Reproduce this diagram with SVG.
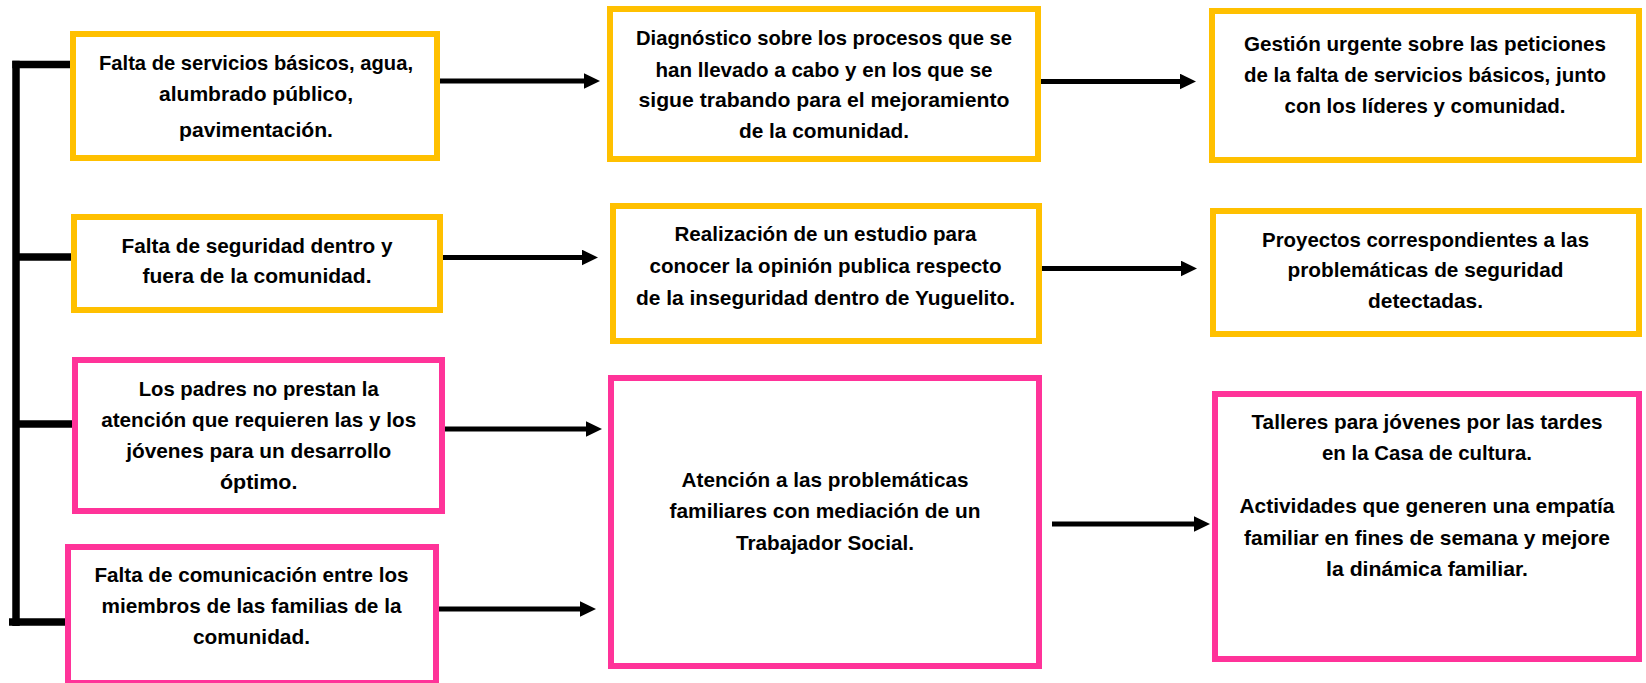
<svg xmlns="http://www.w3.org/2000/svg" width="1646" height="683" viewBox="0 0 1646 683">
<style>
.box{fill:#ffffff;stroke-width:6}
.y{stroke:#FFC000}
.p{stroke:#FF3399}
.t{font-family:"Liberation Sans",Arial,sans-serif;font-weight:bold;font-size:21px;fill:#000000;text-anchor:middle}
.ln{fill:none;stroke:#000000;stroke-width:5}
.br{fill:none;stroke:#000000;stroke-width:7.5;stroke-linecap:butt}
</style>
<defs>
<marker id="ah" markerUnits="userSpaceOnUse" markerWidth="16" markerHeight="16" refX="2" refY="7.8" orient="auto">
<path d="M0,0 L16,7.8 L0,15.6 z" fill="#000000"/>
</marker>
</defs>
<rect width="1646" height="683" fill="#ffffff"/>
<g id="connectors">
<path class="br" d="M16,60.7 V626"/>
<path class="br" d="M12.3,64.5 H73"/>
<path class="br" d="M16,257 H74"/>
<path class="br" d="M16,424 H75"/>
<path class="br" d="M9,622 H68"/>
<path class="ln" d="M440,81 H586" marker-end="url(#ah)"/>
<path class="ln" d="M440,257.5 H584" marker-end="url(#ah)"/>
<path class="ln" d="M444,429 H588" marker-end="url(#ah)"/>
<path class="ln" d="M438,609 H582" marker-end="url(#ah)"/>
<path class="ln" d="M1038,81.5 H1182" marker-end="url(#ah)"/>
<path class="ln" d="M1040,268.5 H1183" marker-end="url(#ah)"/>
<path class="ln" d="M1052,524 H1196" marker-end="url(#ah)"/>
</g>
<g id="n1">
<rect class="box y" x="73" y="34" width="364" height="124"/>
<text class="t" x="256" y="70" textLength="314" lengthAdjust="spacingAndGlyphs">Falta de servicios básicos, agua,</text>
<text class="t" x="256" y="100.5" textLength="194" lengthAdjust="spacingAndGlyphs">alumbrado público,</text>
<text class="t" x="256" y="136.7" textLength="154" lengthAdjust="spacingAndGlyphs">pavimentación.</text>
</g>
<g id="n2">
<rect class="box y" x="74" y="217" width="366" height="93"/>
<text class="t" x="257" y="253" textLength="271" lengthAdjust="spacingAndGlyphs">Falta de seguridad dentro y</text>
<text class="t" x="257" y="283" textLength="229" lengthAdjust="spacingAndGlyphs">fuera de la comunidad.</text>
</g>
<g id="n3">
<rect class="box y" x="610" y="9" width="428" height="150"/>
<text class="t" x="824" y="45" textLength="376" lengthAdjust="spacingAndGlyphs">Diagnóstico sobre los procesos que se</text>
<text class="t" x="824" y="76.7" textLength="337" lengthAdjust="spacingAndGlyphs">han llevado a cabo y en los que se</text>
<text class="t" x="824" y="107" textLength="371" lengthAdjust="spacingAndGlyphs">sigue trabando para el mejoramiento</text>
<text class="t" x="824" y="138.3" textLength="170" lengthAdjust="spacingAndGlyphs">de la comunidad.</text>
</g>
<g id="n4">
<rect class="box y" x="613" y="206" width="426" height="135"/>
<text class="t" x="825.5" y="240.7" textLength="302" lengthAdjust="spacingAndGlyphs">Realización de un estudio para</text>
<text class="t" x="825.5" y="272.7" textLength="352" lengthAdjust="spacingAndGlyphs">conocer la opinión publica respecto</text>
<text class="t" x="825.5" y="304.5" textLength="379" lengthAdjust="spacingAndGlyphs">de la inseguridad dentro de Yuguelito.</text>
</g>
<g id="n5">
<rect class="box y" x="1212" y="11" width="427" height="149"/>
<text class="t" x="1425" y="50.7" textLength="362" lengthAdjust="spacingAndGlyphs">Gestión urgente sobre las peticiones</text>
<text class="t" x="1425" y="81.7" textLength="362" lengthAdjust="spacingAndGlyphs">de la falta de servicios básicos, junto</text>
<text class="t" x="1425" y="113.3" textLength="281" lengthAdjust="spacingAndGlyphs">con los líderes y comunidad.</text>
</g>
<g id="n6">
<rect class="box y" x="1213" y="211" width="426" height="123"/>
<text class="t" x="1425.5" y="246.7" textLength="327" lengthAdjust="spacingAndGlyphs">Proyectos correspondientes a las</text>
<text class="t" x="1425.5" y="277.3" textLength="276" lengthAdjust="spacingAndGlyphs">problemáticas de seguridad</text>
<text class="t" x="1425.5" y="308.3" textLength="115" lengthAdjust="spacingAndGlyphs">detectadas.</text>
</g>
<g id="n7">
<rect class="box p" x="75" y="360" width="367" height="151"/>
<text class="t" x="258.7" y="396" textLength="240" lengthAdjust="spacingAndGlyphs">Los padres no prestan la</text>
<text class="t" x="258.7" y="427.3" textLength="315" lengthAdjust="spacingAndGlyphs">atención que requieren las y los</text>
<text class="t" x="258.7" y="458.3" textLength="265" lengthAdjust="spacingAndGlyphs">jóvenes para un desarrollo</text>
<text class="t" x="258.7" y="489.3" textLength="77.5" lengthAdjust="spacingAndGlyphs">óptimo.</text>
</g>
<g id="n8">
<rect class="box p" x="68" y="547" width="368" height="136"/>
<text class="t" x="251.5" y="582.3" textLength="314" lengthAdjust="spacingAndGlyphs">Falta de comunicación entre los</text>
<text class="t" x="251.5" y="613.3" textLength="300" lengthAdjust="spacingAndGlyphs">miembros de las familias de la</text>
<text class="t" x="251.5" y="644" textLength="117" lengthAdjust="spacingAndGlyphs">comunidad.</text>
</g>
<g id="n9">
<rect class="box p" x="611" y="378" width="428" height="288"/>
<text class="t" x="825" y="486.7" textLength="287" lengthAdjust="spacingAndGlyphs">Atención a las problemáticas</text>
<text class="t" x="825" y="518.3" textLength="311" lengthAdjust="spacingAndGlyphs">familiares con mediación de un</text>
<text class="t" x="825" y="550" textLength="178" lengthAdjust="spacingAndGlyphs">Trabajador Social.</text>
</g>
<g id="n10">
<rect class="box p" x="1215" y="394" width="424" height="265"/>
<text class="t" x="1427" y="429" textLength="351" lengthAdjust="spacingAndGlyphs">Talleres para jóvenes por las tardes</text>
<text class="t" x="1427" y="460" textLength="210" lengthAdjust="spacingAndGlyphs">en la Casa de cultura.</text>
<text class="t" x="1427" y="513.3" textLength="375" lengthAdjust="spacingAndGlyphs">Actividades que generen una empatía</text>
<text class="t" x="1427" y="545" textLength="366" lengthAdjust="spacingAndGlyphs">familiar en fines de semana y mejore</text>
<text class="t" x="1427" y="576" textLength="202" lengthAdjust="spacingAndGlyphs">la dinámica familiar.</text>
</g>
</svg>
